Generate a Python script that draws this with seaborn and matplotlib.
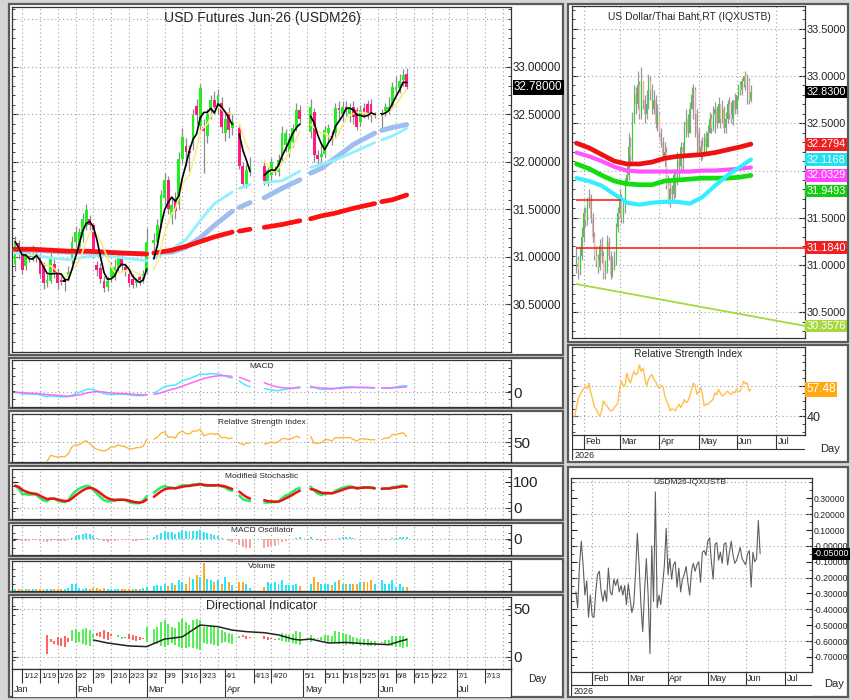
import numpy as np
import pandas as pd
import matplotlib
matplotlib.use("Agg")
import matplotlib.pyplot as plt
import matplotlib.ticker as mticker
import matplotlib.transforms as mtransforms
from matplotlib.patches import Rectangle
import seaborn as sns

nan = np.nan

# ---------------- data (trading day 0 = 2026-01-08) ----------------
first_day, last_day = "2026-01-08", "2026-07-24"
date_ticks = ["2026-01-12", "2026-01-19", "2026-01-26", "2026-02-02", "2026-02-09",
              "2026-02-16", "2026-02-23", "2026-03-02", "2026-03-09", "2026-03-16",
              "2026-03-23", "2026-04-01", "2026-04-13", "2026-04-20", "2026-05-01",
              "2026-05-11", "2026-05-18", "2026-05-25", "2026-06-01", "2026-06-08",
              "2026-06-15", "2026-06-22", "2026-07-01", "2026-07-13"]
date_labels = ["1/12", "1/19", "1/26", "2/2", "2/9", "2/16", "2/23", "3/2", "3/9", "3/16",
               "3/23", "4/1", "4/13", "4/20", "5/1", "5/11", "5/18", "5/25", "6/1", "6/8",
               "6/15", "6/22", "7/1", "7/13"]
month_starts = ["2026-02-02", "2026-03-02", "2026-04-01", "2026-05-01", "2026-06-01", "2026-07-01"]
month_names = ["Jan", "Feb", "Mar", "Apr", "May", "Jun", "Jul"]

# USD futures Jun-26, daily OHLC (nan = exchange holiday)
fut_open = [
    30.93, 31.15, 31.05, 30.90, 31.02, 31.00, 31.03, 31.00, 30.91, 30.72,
    30.75, 30.93, 30.84, 30.76, 30.74, 30.79, 30.98, 31.16, 31.10, 31.21,
    31.32, 31.40, 31.33, 30.91, 30.88, 30.75, 30.68, 30.79, 30.80, 30.89,
    31.00, 30.89, 30.82, 30.77, 30.72, 30.79, 30.77, 30.84, nan, 31.15,
    31.16, 31.33, 31.62, 31.81, 31.42, 31.60, 31.56, 32.03, 32.16, 32.11,
    32.21, 32.59, 32.38, 32.36, 32.27, 32.54, 32.65, 32.56, 32.62, 32.30,
    32.52, 32.35, nan, 32.35, 31.96, 31.77, 31.89, nan, nan, nan,
    31.95, 31.80, 31.86, 31.91, 31.89, 32.05, 32.18, 32.10, 32.21, 32.37,
    32.54, nan, nan, 32.31, 32.52, 32.07, 32.05, 32.08, 32.30, 32.27,
    32.30, 32.56, 32.50, 32.58, 32.50, 32.58, 32.54, 32.42, 32.56, 32.61,
    32.61, 32.49, nan, 32.50, 32.53, 32.54, 32.60, 32.75, 32.77, 32.86,
    32.92]
fut_high = [
    31.22, 31.18, 31.08, 31.06, 31.10, 31.12, 31.08, 31.04, 30.95, 30.82,
    31.05, 30.98, 30.88, 30.82, 30.78, 30.90, 31.22, 31.32, 31.30, 31.46,
    31.56, 31.44, 31.36, 30.96, 30.94, 30.80, 30.80, 30.95, 30.98, 31.05,
    31.04, 30.94, 30.86, 30.82, 30.78, 30.82, 30.86, 31.30, nan, 31.25,
    31.40, 31.70, 31.88, 31.85, 31.62, 31.68, 32.10, 32.35, 32.25, 32.18,
    32.55, 32.66, 32.82, 32.45, 32.55, 32.70, 32.74, 32.76, 32.68, 32.52,
    32.58, 32.50, nan, 32.40, 32.00, 31.98, 32.05, nan, nan, nan,
    32.00, 31.96, 32.04, 31.96, 32.08, 32.38, 32.34, 32.30, 32.40, 32.62,
    32.60, nan, nan, 32.66, 32.56, 32.12, 32.20, 32.38, 32.40, 32.32,
    32.62, 32.64, 32.64, 32.64, 32.62, 32.64, 32.58, 32.60, 32.62, 32.65,
    32.66, 32.52, nan, 32.55, 32.62, 32.68, 32.84, 32.90, 32.92, 32.97,
    32.98]
fut_low = [
    30.85, 30.98, 30.82, 30.86, 30.95, 30.96, 30.95, 30.78, 30.66, 30.68,
    30.72, 30.78, 30.66, 30.70, 30.64, 30.75, 30.92, 31.10, 31.05, 31.16,
    31.28, 31.28, 31.00, 30.80, 30.72, 30.63, 30.64, 30.74, 30.76, 30.85,
    30.86, 30.80, 30.68, 30.67, 30.68, 30.70, 30.72, 30.82, nan, 31.05,
    31.10, 31.30, 31.55, 31.45, 31.35, 31.40, 31.50, 31.98, 31.95, 31.90,
    32.12, 32.40, 32.30, 31.88, 32.20, 32.45, 32.50, 32.50, 32.30, 32.22,
    32.25, 32.28, nan, 31.92, 31.72, 31.72, 31.85, nan, nan, nan,
    31.76, 31.74, 31.80, 31.86, 31.85, 32.00, 32.10, 32.05, 32.15, 32.32,
    32.40, nan, nan, 32.25, 32.00, 31.98, 32.00, 32.05, 32.20, 32.18,
    32.26, 32.45, 32.42, 32.48, 32.42, 32.40, 32.33, 32.38, 32.46, 32.45,
    32.42, 32.46, nan, 32.35, 32.48, 32.50, 32.56, 32.70, 32.72, 32.80,
    32.76]
fut_close = [
    31.16, 31.04, 30.86, 31.02, 31.00, 31.03, 31.01, 30.82, 30.72, 30.76,
    30.98, 30.84, 30.72, 30.74, 30.74, 30.84, 31.16, 31.26, 31.26, 31.40,
    31.49, 31.33, 31.04, 30.86, 30.77, 30.67, 30.75, 30.89, 30.89, 31.00,
    30.91, 30.86, 30.72, 30.70, 30.75, 30.76, 30.82, 31.16, nan, 31.18,
    31.33, 31.65, 31.81, 31.50, 31.55, 31.48, 32.03, 32.26, 32.10, 32.09,
    32.49, 32.49, 32.77, 32.32, 32.50, 32.65, 32.58, 32.70, 32.37, 32.45,
    32.33, 32.42, nan, 31.96, 31.77, 31.91, 31.95, nan, nan, nan,
    31.80, 31.91, 32.00, 31.92, 32.02, 32.30, 32.30, 32.24, 32.35, 32.54,
    32.45, nan, nan, 32.58, 32.07, 32.03, 32.08, 32.33, 32.35, 32.25,
    32.56, 32.54, 32.58, 32.56, 32.57, 32.47, 32.37, 32.54, 32.52, 32.51,
    32.48, 32.49, nan, 32.50, 32.58, 32.58, 32.79, 32.79, 32.85, 32.91,
    32.78]
fut_volume = [
    5, 6, 5, 6, 5, 6, 5, 5, 6, 5,
    7, 6, 5, 6, 7, 8, 22, 22, 8, 7,
    8, 7, 9, 8, 7, 9, 7, 6, 7, 6,
    7, 6, 7, 7, 6, 7, 8, 12, nan, 15,
    18, 14, 20, 14, 24, 17, 32, 27, 22, 42,
    37, 47, 42, 84, 37, 32, 27, 32, 22, 42,
    27, 17, nan, 27, 27, 22, 10, nan, nan, nan,
    12, 27, 22, 27, 22, 32, 17, 17, 17, 22,
    15, nan, nan, 22, 42, 27, 22, 22, 22, 17,
    27, 32, 22, 22, 22, 22, 22, 27, 27, 27,
    32, 22, nan, 32, 22, 22, 32, 12, 22, 12,
    12]
fut_last = 32.78

ma_day = [0, 5, 10, 15, 20, 25, 30, 37, 38, 39, 44, 48, 52, 56, 61, 62, 63, 66, 68, 70,
          75, 80, 81, 83, 86, 90, 95, 101, 102, 103, 106, 110]
ma_red = [31.08, 31.08, 31.07, 31.06, 31.06, 31.05, 31.04, 31.03, nan, 31.04, 31.07, 31.11,
          31.16, 31.21, 31.26, nan, 31.27, 31.29, nan, 31.31, 31.34, 31.38, nan, 31.40,
          31.43, 31.46, 31.51, 31.56, nan, 31.58, 31.60, 31.65]
ma_blue = [31.07, 31.07, 31.06, 31.05, 31.05, 31.05, 31.04, 31.03, nan, 31.04, 31.05, 31.10,
           31.20, 31.33, 31.48, nan, 31.52, 31.57, nan, 31.62, 31.72, 31.81, nan, 31.88,
           31.93, 32.04, 32.18, 32.30, nan, 32.33, 32.36, 32.39]
ma_cyan = [31.04, 31.02, 30.99, 30.97, 31.00, 31.02, 30.99, 30.96, nan, 30.98, 31.08, 31.18,
           31.38, 31.56, 31.68, nan, 31.72, 31.76, nan, 31.78, 31.80, 31.90, nan, 31.94,
           31.97, 32.02, 32.10, 32.20, nan, 32.23, 32.27, 32.35]

adx_day = [22, 26, 32, 37, 42, 47, 52, 57, 61, 65, 70, 74, 78, 80, 83, 88, 93, 98, 101,
           103, 105, 108, 110]
adx_val = [17.7, 14.6, 11.5, 10.8, 18.7, 21.0, 33.3, 31.6, 28.0, 26.4, 25.3, 23.0, 18.7,
           17.7, 18.7, 14.6, 15.2, 13.9, 13.6, 13.2, 12.8, 16.3, 18.2]

# USD/THB spot, starts at trading day 13
spot_start = 13
spot_first_open = 31.00
spot_close = [
    31.05, 30.95, 31.10, 31.30, 31.55, 31.48, 31.65, 31.72, 31.50, 31.30,
    31.10, 31.05, 30.98, 31.20, 31.10, 30.92, 30.95, 31.25, 31.10, 30.90,
    31.00, 31.05, 31.40, 31.55, 31.70, 31.50, 31.60, 31.85, 31.95, 32.25,
    32.15, 32.55, 32.80, 32.70, 32.90, 32.60, 32.95, 32.75, 32.60, 32.70,
    32.95, 32.85, 32.65, 32.75, 32.50, 32.60, 32.40, 32.30, 32.15, 32.20,
    31.85, 31.70, 31.80, 31.75, 31.95, 31.90, 32.10, 32.05, 32.25, 32.20,
    32.45, 32.55, 32.40, 32.65, 32.80, 32.85, 32.60, 32.40, 32.20, 32.25,
    32.15, 32.35, 32.25, 32.40, 32.55, 32.45, 32.60, 32.65, 32.50, 32.70,
    32.55, 32.65, 32.45, 32.55, 32.70, 32.60, 32.55, 32.75, 32.65, 32.80,
    32.90, 32.85, 32.95, 33.00, 32.90, 32.95, 32.75, 32.83]
spot_high = [
    31.20, 31.10, 31.20, 31.40, 31.62, 31.62, 31.72, 31.80, 31.75, 31.55,
    31.35, 31.20, 31.12, 31.28, 31.30, 31.15, 31.05, 31.32, 31.30, 31.15,
    31.10, 31.15, 31.45, 31.62, 31.80, 31.75, 31.70, 31.92, 32.05, 32.40,
    32.35, 32.62, 32.90, 32.88, 33.05, 32.95, 33.10, 32.95, 32.80, 32.85,
    33.02, 33.00, 32.92, 32.85, 32.80, 32.70, 32.62, 32.45, 32.35, 32.30,
    32.25, 31.95, 31.88, 31.85, 32.00, 32.02, 32.20, 32.15, 32.30, 32.30,
    32.52, 32.65, 32.60, 32.72, 32.88, 32.92, 32.88, 32.65, 32.45, 32.32,
    32.35, 32.40, 32.42, 32.48, 32.62, 32.60, 32.68, 32.72, 32.68, 32.78,
    32.70, 32.75, 32.68, 32.62, 32.75, 32.78, 32.72, 32.72, 32.82, 32.78,
    32.88, 32.95, 32.98, 33.00, 33.05, 33.02, 32.98, 32.90]
spot_low = [
    30.92, 30.85, 30.90, 31.05, 31.25, 31.40, 31.42, 31.60, 31.45, 31.25,
    31.05, 30.98, 30.92, 30.95, 31.02, 30.85, 30.85, 30.92, 31.05, 30.85,
    30.88, 30.95, 31.00, 31.35, 31.50, 31.45, 31.45, 31.55, 31.85, 31.90,
    32.05, 32.10, 32.50, 32.60, 32.65, 32.55, 32.55, 32.65, 32.50, 32.55,
    32.65, 32.75, 32.60, 32.60, 32.45, 32.42, 32.35, 32.25, 32.10, 32.05,
    31.80, 31.65, 31.62, 31.68, 31.70, 31.72, 31.85, 31.90, 32.00, 32.00,
    32.15, 32.35, 32.35, 32.55, 32.70, 32.55, 32.35, 32.15, 32.15, 32.10,
    32.12, 32.20, 32.20, 32.30, 32.40, 32.40, 32.42, 32.40, 32.45, 32.55,
    32.45, 32.50, 32.40, 32.40, 32.50, 32.55, 32.50, 32.48, 32.60, 32.60,
    32.75, 32.80, 32.80, 32.88, 32.85, 32.70, 32.70, 32.72]

# spot moving averages (sampled days)
sp_ma_day = [13, 20, 27, 34, 41, 48, 55, 62, 69, 76, 83, 90, 97, 104, 110]
sp_ma_red = [32.29, 32.24, 32.17, 32.10, 32.07, 32.07, 32.09, 32.13, 32.15, 32.16, 32.17,
             32.19, 32.22, 32.25, 32.2794]
sp_ma_magenta = [32.19, 32.15, 32.10, 32.04, 32.00, 31.99, 31.99, 31.99, 31.99, 31.99,
                 32.00, 32.00, 32.01, 32.02, 32.0329]
sp_ma_green = [32.07, 32.02, 31.95, 31.89, 31.86, 31.85, 31.85, 31.89, 31.90, 31.91, 31.92,
               31.92, 31.92, 31.93, 31.9493]
sp_ma_cyan = [31.92, 31.89, 31.84, 31.75, 31.66, 31.64, 31.66, 31.67, 31.67, 31.65, 31.72,
              31.84, 31.95, 32.04, 32.1168]
sp_support = 31.1840
sp_resist, sp_resist_days = 31.69, (13, 38)
sp_trend_days, sp_trend_vals = (13, 140.1), (30.80, 30.3576)
sp_last = 32.83

# spot RSI, starts at trading day 12
sp_rsi_start = 12
sp_rsi = [
    40.0, 46, 52, 54, 56.4, 58, 59.6, 58, 61.7, 55,
    51.1, 46, 44.7, 42, 40.0, 44, 50.0, 48, 46.8, 45,
    43.6, 44, 45.8, 47, 48.9, 57.5, 62.8, 60, 59.6, 68.1,
    64, 61.7, 66.0, 69.2, 67, 68.1, 73.4, 69.2, 71.3, 65,
    59.6, 64, 66.0, 67.1, 64, 62.8, 59.6, 58.5, 60, 59.6,
    54.3, 50, 47.9, 43.6, 45, 44.7, 43.6, 46, 47.9, 45.8,
    48, 51.1, 48.9, 50, 53.2, 57.5, 61.7, 60, 54.3, 56,
    58.5, 54.3, 46.8, 48, 47.9, 48.9, 50, 51.1, 55.3, 54,
    57.5, 55.3, 53.2, 54, 55.3, 56.4, 55, 54.3, 56, 55.3,
    57.5, 56, 56.4, 59.6, 62.8, 61, 61.7, 56.4, 57.48]
sp_rsi_last = 57.48

# futures minus spot spread, starts at trading day 8
spread_start = 8
spread = [
    -0.29, -0.39, -0.12, 0.03, -0.12, -0.31, -0.22, -0.45, -0.31, -0.44,
    -0.45, -0.29, -0.18, -0.16, -0.29, -0.35, -0.28, -0.35, -0.14, -0.29,
    -0.31, -0.21, -0.25, -0.21, -0.29, -0.25, -0.31, -0.25, -0.37, -0.24,
    -0.33, -0.42, -0.37, -0.18, 0.08, -0.12, -0.37, -0.54, -0.29, -0.08,
    -0.31, -0.68, 0.00, -0.35, 0.34, -0.39, -0.31, -0.37, -0.25, -0.12,
    0.11, -0.18, -0.08, -0.21, -0.12, -0.10, -0.26, -0.14, -0.29, -0.21,
    -0.18, -0.13, -0.23, -0.31, -0.16, -0.11, -0.16, -0.12, -0.10, -0.23,
    -0.04, -0.03, -0.06, 0.03, 0.05, -0.10, -0.21, 0.01, 0.02, -0.09,
    -0.04, -0.11, 0.01, 0.02, -0.12, -0.04, 0.03, -0.06, -0.11, -0.09,
    -0.05, -0.01, -0.08, -0.10, -0.12, -0.05, -0.03, -0.26, -0.04, -0.10,
    -0.08, 0.16, -0.05]
spread_last = -0.05

# ---------------- derived series ----------------
days = pd.bdate_range(first_day, last_day)
pos = lambda d: days.get_loc(pd.Timestamp(d))
tick_pos = [pos(d) for d in date_ticks]
month_pos = [pos(d) for d in month_starts]

o = pd.Series(fut_open, dtype=float)
h = pd.Series(fut_high, dtype=float)
l = pd.Series(fut_low, dtype=float)
c = pd.Series(fut_close, dtype=float)
x = np.arange(len(c))
ok = c.notna()
cv, hv, lv = c[ok], h[ok], l[ok]

ma_fast = cv.rolling(4, min_periods=1).mean().reindex(c.index)
ma_slow = cv.rolling(7, min_periods=1).mean().reindex(c.index)

ema = lambda s, n: s.ewm(span=n, adjust=False).mean()
macd = ema(cv, 12) - ema(cv, 26)
signal = ema(macd, 9)
hist = (macd - signal).reindex(c.index)
macd, signal = macd.reindex(c.index), signal.reindex(c.index)

d = cv.diff()
gain = d.clip(lower=0).ewm(alpha=1 / 14, adjust=False).mean()
loss = (-d.clip(upper=0)).ewm(alpha=1 / 14, adjust=False).mean()
rsi = (100 - 100 / (1 + gain / loss)).reindex(c.index)
rsi.iloc[:9] = nan

ll_ = lv.rolling(14, min_periods=1).min()
hh_ = hv.rolling(14, min_periods=1).max()
k = 100 * (cv - ll_) / (hh_ - ll_)
stoch_k = k.ewm(span=5, adjust=False).mean()
stoch_d = stoch_k.ewm(span=4, adjust=False).mean()
stoch_k, stoch_d = stoch_k.reindex(c.index), stoch_d.reindex(c.index)

pc = cv.shift()
tr = pd.concat([hv - lv, (hv - pc).abs(), (lv - pc).abs()], axis=1).max(axis=1)
up_mv, dn_mv = hv.diff(), -lv.diff()
pdm = up_mv.where((up_mv > dn_mv) & (up_mv > 0), 0.0)
ndm = dn_mv.where((dn_mv > up_mv) & (dn_mv > 0), 0.0)
wild = lambda s: s.ewm(alpha=1 / 14, adjust=True).mean()
atr = wild(tr)
pdi, ndi = 100 * wild(pdm) / atr, 100 * wild(ndm) / atr
pdi, ndi = pdi.reindex(c.index), ndi.reindex(c.index)
pdi.iloc[:9] = nan

sp_c = np.array(spot_close)
sp_o = np.r_[spot_first_open, sp_c[:-1]]
sp_h = np.maximum(np.array(spot_high), np.maximum(sp_o, sp_c))
sp_l = np.minimum(np.array(spot_low), np.minimum(sp_o, sp_c))
sp_x = np.arange(spot_start, spot_start + len(sp_c))

# ---------------- figure ----------------
sns.set_style("white")
plt.rcParams["font.family"] = ["Liberation Sans", "DejaVu Sans"]

W, H = 852, 700
fig = plt.figure(figsize=(W / 100, H / 100), dpi=100)
fig.patch.set_facecolor("#d6d6d6")

def rect(x0, y0, x1, y1):
    return [x0 / W, 1 - y1 / H, (x1 - x0) / W, (y1 - y0) / H]

def frame(x0, y0, x1, y1):
    fig.patches.append(Rectangle((x0 / W, 1 - y1 / H), (x1 - x0) / W, (y1 - y0) / H,
                                 transform=fig.transFigure, facecolor="white",
                                 edgecolor="#5a5a5a", lw=1.6, zorder=-5))

def ftext(xp, yp, s, size, **kw):
    fig.text(xp / W, 1 - yp / H, s, fontsize=size, ha=kw.pop("ha", "center"),
             va=kw.pop("va", "center"), **kw)

grid_kw = dict(color="#a0a0a0", lw=0.8, ls=(0, (1, 2.5)), zorder=1)
XL = (-0.85, 139.3)
week_grid = range(2, 140, 5)

def base_axes(r, xlim):
    a = fig.add_axes(r)
    a.set_facecolor("white")
    a.set_xlim(*xlim)
    a.set_xticks([])
    for s in a.spines.values():
        s.set_color("#333333")
        s.set_linewidth(0.9)
    a.yaxis.tick_right()
    a.tick_params(axis="y", which="both", direction="in", left=True, right=True,
                  labelleft=False, labelright=True, pad=1.5, colors="#222222")
    a.tick_params(axis="y", which="major", length=4)
    a.tick_params(axis="y", which="minor", length=2.5)
    return a

def end_label(a, val, txt, color, size=8):
    tr_ = mtransforms.blended_transform_factory(a.transAxes, a.transData)
    a.text(1.006, val, txt, transform=tr_, ha="left", va="center", fontsize=size,
           color="white", zorder=10,
           bbox=dict(facecolor=color, edgecolor="none", pad=1.0))

# frames
frame(9, 4, 563, 355)
for y0, y1 in [(358, 408), (411, 463), (466, 520), (523, 556), (559, 592), (595, 697)]:
    frame(9, y0, 563, y1)
frame(568, 4, 848, 342)
frame(568, 345, 848, 462)
frame(568, 467, 848, 697)

# ---- main futures chart ----
ax = base_axes(rect(12, 7, 511, 352), XL)
ax.set_ylim(30.0, 33.626)
for p in np.arange(30.0, 33.51, 0.5):
    ax.axhline(p, **grid_kw)
for v in week_grid:
    ax.axvline(v, **grid_kw)
ax.set_yticks(np.arange(30.5, 33.01, 0.5))
ax.set_yticklabels([f"{v:.5f}" for v in np.arange(30.5, 33.01, 0.5)], fontsize=8.4)
ax.yaxis.set_minor_locator(mticker.MultipleLocator(0.1))

ax.vlines(x[ok], l[ok], h[ok], color="#8a8a8a", lw=0.9, zorder=3)
body = (c - o).values
col = np.where(body > 0, "#22ee22", np.where(body < 0, "#ff1a80", "black"))
hgt = np.where(np.abs(body) < 0.005, 0.012, body)
ax.bar(x[ok], hgt[ok], bottom=o[ok], width=0.8, color=col[ok], lw=0, zorder=4)

ax.plot(ma_day, ma_blue, color="#9fbef0", lw=3.6, zorder=5, solid_capstyle="round")
ax.plot(ma_day, ma_cyan, color="#8ff0ff", lw=2.0, zorder=5, solid_capstyle="round")
ax.plot(ma_day, ma_red, color="#ff1010", lw=3.4, zorder=5, solid_capstyle="round")
ax.plot(x, ma_slow, color="#ffe98a", lw=1.2, zorder=6)
ax.plot(x, ma_fast, color="black", lw=1.2, zorder=6)
end_label(ax, fut_last, f"{fut_last:.5f}", "black", 8.4)
ftext(262, 18, "USD Futures Jun-26 (USDM26)", 10)

# ---- MACD ----
a1 = base_axes(rect(12, 360, 511, 407), XL)
for v in week_grid:
    a1.axvline(v, **grid_kw)
m = np.nanmax(macd)
a1.set_ylim(-0.79 * m, 1.74 * m)
a1.axhline(0, **grid_kw)
a1.plot(x, macd, color="#44eeff", lw=1.1, zorder=4)
a1.plot(x, signal, color="#ff66ff", lw=1.1, zorder=4)
a1.set_yticks([0]); a1.set_yticklabels(["0"], fontsize=11)
a1.yaxis.set_minor_locator(mticker.LinearLocator(7))
ftext(262, 367, "MACD", 6)

# ---- RSI ----
a2 = base_axes(rect(12, 414, 511, 462), XL)
for v in week_grid:
    a2.axvline(v, **grid_kw)
a2.set_ylim(10, 106)
a2.axhline(50, **grid_kw)
a2.plot(x, rsi, color="#ffb640", lw=1.0, zorder=4)
a2.set_yticks([50]); a2.set_yticklabels(["50"], fontsize=11)
a2.yaxis.set_minor_locator(mticker.LinearLocator(7))
ftext(262, 422, "Relative Strength Index", 6)

# ---- Modified stochastic ----
a3 = base_axes(rect(12, 469, 511, 519), XL)
for v in week_grid:
    a3.axvline(v, **grid_kw)
a3.set_ylim(-44, 148)
a3.axhline(0, **grid_kw)
a3.plot(x, stoch_k, color="#22ee66", lw=1.8, zorder=4)
a3.plot(x, stoch_d, color="#ee1111", lw=1.8, zorder=5)
a3.set_yticks([0, 100]); a3.set_yticklabels(["0", "100"], fontsize=11)
a3.yaxis.set_minor_locator(mticker.LinearLocator(7))
ftext(262, 477, "Modified Stochastic", 6)

# ---- MACD oscillator ----
a4 = base_axes(rect(12, 525, 511, 555), XL)
for v in week_grid:
    a4.axvline(v, **grid_kw)
s_ = max(np.nanmax(hist) / 9, -np.nanmin(hist) / 11)
a4.set_ylim(-16 * s_, 14 * s_)
a4.axhline(0, **grid_kw)
hc = np.where(hist > 0, "#33e6f5", "#f5a5a5")
a4.bar(x[ok], hist[ok], width=0.55, color=hc[ok], lw=0, zorder=4)
a4.set_yticks([0]); a4.set_yticklabels(["0"], fontsize=11)
a4.yaxis.set_minor_locator(mticker.LinearLocator(5))
ftext(262, 531, "MACD Oscillator", 6)

# ---- Volume ----
a5 = base_axes(rect(12, 561, 511, 591), XL)
for v in week_grid:
    a5.axvline(v, **grid_kw)
vol = pd.Series(fut_volume, dtype=float)
a5.set_ylim(0, np.nanmax(vol) * 30 / 28)
vc = np.where(body >= 0, "#22e8ff", "#ffaa22")
a5.bar(x[ok], vol[ok], width=0.55, color=vc[ok], lw=0, zorder=4)
a5.set_yticks([])
a5.yaxis.set_minor_locator(mticker.LinearLocator(5))
ftext(262, 567, "Volume", 6)

# ---- Directional indicator ----
a6 = base_axes(rect(12, 597, 511, 669), XL)
for v in week_grid:
    a6.axvline(v, **grid_kw)
a6.set_ylim(-12.5, 62.5)
a6.axhline(0, **grid_kw)
a6.axhline(50, **grid_kw)
dok = pdi.notna() & ndi.notna()
dcol = np.where(pdi > ndi, "#44ee44", "#ff5555")
a6.vlines(x[dok], np.minimum(pdi, ndi)[dok], np.maximum(pdi, ndi)[dok], colors=dcol[dok],
          lw=1.3, zorder=4)
a6.plot(adx_day, adx_val, color="#222222", lw=1.1, zorder=5)
a6.set_yticks([0, 50]); a6.set_yticklabels(["0", "50"], fontsize=11)
a6.yaxis.set_minor_locator(mticker.LinearLocator(9))
ftext(262, 606, "Directional Indicator", 9)

# ---- date rows (left) ----
ad = fig.add_axes(rect(12, 669, 511, 697))
ad.set_xlim(*XL); ad.set_ylim(0, 1)
ad.set_xticks([]); ad.set_yticks([])
ad.set_facecolor("white")
for s in ad.spines.values():
    s.set_color("#333333"); s.set_linewidth(0.9)
ad.spines["bottom"].set_visible(False)
ad.vlines(tick_pos, 0.5, 1, color="#333333", lw=0.8)
for p_, t_ in zip(tick_pos, date_labels):
    ad.text(p_ + 0.3, 0.73, t_, fontsize=5.6, ha="left", va="center")
ad.vlines(month_pos, 0, 0.5, color="#333333", lw=0.8)
for p_, t_ in zip([XL[0]] + month_pos, month_names):
    ad.text(p_ + 0.5, 0.25, t_, fontsize=6.5, ha="left", va="center")
ftext(537, 679, "Day", 7.5)

# ---- right: USD/THB spot ----
XR = (10.5, 140.1)
ar = base_axes(rect(572, 6, 805, 338), XR)
ar.set_ylim(30.23, 33.74)
for p in np.arange(30.5, 33.51, 0.5):
    ar.axhline(p, **grid_kw)
for v in month_pos:
    ar.axvline(v, **grid_kw)
rt = [30.5, 31.0, 31.5, 32.5, 33.0, 33.5]
ar.set_yticks(rt); ar.set_yticklabels([f"{v:.4f}" for v in rt], fontsize=7.8)
ar.yaxis.set_minor_locator(mticker.MultipleLocator(0.1))
ar.vlines(sp_x, sp_l, sp_h, color="#9a9a9a", lw=0.9, zorder=3)
sb = sp_c - sp_o
ar.bar(sp_x, sb, bottom=sp_o, width=0.55, lw=0, zorder=4,
       color=np.where(sb >= 0, "#22dd22", "#ffaaaa"))
ar.plot(sp_ma_day, sp_ma_red, color="#ee1111", lw=3.4, zorder=5)
ar.plot(sp_ma_day, sp_ma_magenta, color="#ff55ff", lw=3.0, zorder=5)
ar.plot(sp_ma_day, sp_ma_green, color="#11dd11", lw=3.4, zorder=5)
ar.plot(sp_ma_day, sp_ma_cyan, color="#33eeff", lw=3.0, zorder=5)
ar.hlines(sp_support, spot_start, XR[1], color="#ff2020", lw=1.2, zorder=6)
ar.hlines(sp_resist, *sp_resist_days, color="#ff2020", lw=1.2, zorder=6)
ar.plot(sp_trend_days, sp_trend_vals, color="#a8d840", lw=1.3, zorder=6)
lab_vals = [sp_last, sp_ma_red[-1], sp_ma_cyan[-1], sp_ma_magenta[-1], sp_ma_green[-1],
            sp_support, sp_trend_vals[1]]
lab_cols = ["black", "#ee2222", "#22e0f0", "#ff44ff", "#11cc11", "#ee2222", "#a8d840"]
placed = []
for v, cc in zip(lab_vals, lab_cols):
    yv = v if not placed else min(v, placed[-1] - 0.165)
    placed.append(yv)
    end_label(ar, yv, f"{v:.4f}", cc, 7.8)
ftext(689, 17, "US Dollar/Thai Baht,RT (IQXUSTB)", 7.5)

# ---- right: spot RSI ----
ar2 = base_axes(rect(572, 347, 805, 435), XR)
ar2.set_ylim(28, 85)
ar2.axhline(40, **grid_kw); ar2.axhline(60, **grid_kw)
for v in month_pos:
    ar2.axvline(v, **grid_kw)
rsi_df = pd.DataFrame({"day": np.arange(sp_rsi_start, sp_rsi_start + len(sp_rsi)),
                       "rsi": sp_rsi})
sns.lineplot(data=rsi_df, x="day", y="rsi", ax=ar2, color="#ffc04d", lw=1.0,
             estimator=None, zorder=4)
ar2.set_xlabel(""); ar2.set_ylabel("")
ar2.set_xticks([])
ar2.set_yticks([40, 60]); ar2.set_yticklabels(["40", ""], fontsize=9)
ar2.yaxis.set_minor_locator(mticker.MultipleLocator(5))
end_label(ar2, sp_rsi_last, f"{sp_rsi_last:.2f}", "#ffaa11", 8.5)
ftext(688, 354, "Relative Strength Index", 7.5)

def month_row(r, xlim):
    a = fig.add_axes(r)
    a.set_xlim(*xlim); a.set_ylim(0, 1)
    a.set_xticks([]); a.set_yticks([])
    a.set_facecolor("white")
    for s in a.spines.values():
        s.set_visible(False)
    a.axhline(1, color="#333333", lw=0.9)
    a.axhline(0.45, color="#333333", lw=0.8)
    a.axvline(xlim[0], color="#333333", lw=0.9)
    a.vlines(month_pos, 0.45, 1, color="#333333", lw=0.8)
    for p_, t_ in zip(month_pos, month_names[1:]):
        a.text(p_ + 0.8, 0.72, t_, fontsize=6.5, ha="left", va="center")
    a.text(xlim[0] + 1.5, 0.2, "2026", fontsize=6.5, ha="left", va="center")
    return a

month_row(rect(572, 435, 805, 460), XR)
ftext(830, 449, "Day", 8)

# ---- right: futures - spot spread ----
XB = (5.3, 138.7)
ab = base_axes(rect(571, 478, 812, 672), XB)
ab.set_ylim(-0.795, 0.428)
for p in np.arange(-0.6, 0.41, 0.2):
    ab.axhline(p, **grid_kw)
for v in month_pos:
    ab.axvline(v, **grid_kw)
sp_df = pd.DataFrame({"day": np.arange(spread_start, spread_start + len(spread)),
                      "spread": spread})
sns.lineplot(data=sp_df, x="day", y="spread", ax=ab, color="#5e5e5e", lw=0.8,
             estimator=None, zorder=4)
ab.set_xlabel(""); ab.set_ylabel("")
ab.set_xticks([])
bt = np.round(np.arange(-0.7, 0.31, 0.1), 2)
ab.set_yticks(bt); ab.set_yticklabels([f"{v:.5f}" for v in bt], fontsize=6.2)
ab.yaxis.set_minor_locator(mticker.MultipleLocator(0.05))
end_label(ab, spread_last, f"{spread_last:.5f}", "black", 6.4)
ftext(690, 482, "USDM26-IQXUSTB", 6)

month_row(rect(571, 672, 812, 696), XB)
ftext(834, 684, "Day", 8)

fig.savefig("out.png", dpi=100, facecolor=fig.get_facecolor())
